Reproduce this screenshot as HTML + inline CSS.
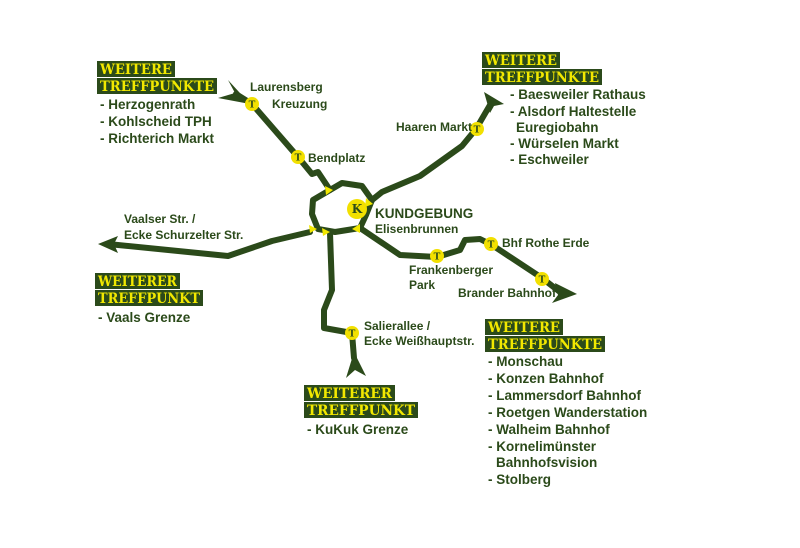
<!DOCTYPE html>
<html><head><meta charset="utf-8"><style>
body{margin:0;background:#fff;}
svg{display:block}
.t{font-family:"Liberation Sans",sans-serif;font-weight:bold;fill:#2b4a1a;font-size:12px}
.l{font-family:"Liberation Sans",sans-serif;font-weight:bold;fill:#2b4a1a;font-size:13.5px}
.h{font-family:"DejaVu Serif","Liberation Serif",serif;font-weight:bold;fill:#f2e800;font-size:13.5px}
.bx{fill:#2b4a1a}
.ln{fill:none;stroke:#2b4a1a;stroke-width:6;stroke-linejoin:round;stroke-linecap:round}
</style></head><body>
<svg width="800" height="548" viewBox="0 0 800 548" xmlns="http://www.w3.org/2000/svg">
<path class="ln" d="M236,94 L252,104 L298,157 L312,174 L318,172 L330,190"/>
<path class="ln" d="M330,190 L342,183 L362,186 L372,200 L366,215 L360,228 L335,232 L318,229 L312,214 L313,200 L330,190"/>
<path class="ln" d="M372,200 L382,192 L420,176 L462,146 L476,129 L490,105"/>
<path class="ln" d="M108,244 L228,256 L272,241 L310,232"/>
<path class="ln" d="M330,233 L332,290 L324,310 L324,328 L352,333 L354,358"/>
<path class="ln" d="M360,228 L400,255 L437,257 L460,250 L465,240 L480,239 L492,245 L542,278 L560,292"/>
<polygon class="bx" points="228,80 250,104 218,98 235,93"/>
<polygon class="bx" points="484,92 504,104 494,106 490,113"/>
<polygon class="bx" points="98,244 118,236 114,244 118,253"/>
<polygon class="bx" points="346,378 354,352 366,376 355,370"/>
<polygon class="bx" points="577,294 555,283 558,295 552,303"/>
<g fill="#f2e800">
<polygon points="325,186 333,190 326,195"/>
<polygon points="366,198 373,204 365,207"/>
<polygon points="309,225 317,229 310,233"/>
<polygon points="322,228 330,232 323,236"/>
<polygon points="360,224 352,229 360,233"/>
</g>
<g font-family="DejaVu Serif,serif" font-weight="bold" font-size="9" text-anchor="middle" fill="#2b4a1a">
<circle cx="252" cy="104" r="7" fill="#f2e000"/><text x="252" y="107.5">T</text>
<circle cx="298" cy="157" r="7" fill="#f2e000"/><text x="298" y="160.5">T</text>
<circle cx="477" cy="129" r="7" fill="#f2e000"/><text x="477" y="132.5">T</text>
<circle cx="437" cy="256" r="7" fill="#f2e000"/><text x="437" y="259.5">T</text>
<circle cx="491" cy="244" r="7" fill="#f2e000"/><text x="491" y="247.5">T</text>
<circle cx="542" cy="279" r="7" fill="#f2e000"/><text x="542" y="282.5">T</text>
<circle cx="352" cy="333" r="7" fill="#f2e000"/><text x="352" y="336.5">T</text>
<circle cx="357" cy="209" r="10" fill="#f2e000"/><text x="357" y="213" font-size="12">K</text>
</g>
<text class="t" x="250" y="91">Laurensberg</text>
<text class="t" x="272" y="108">Kreuzung</text>
<text class="t" x="308" y="162">Bendplatz</text>
<text class="t" x="396" y="131">Haaren Markt</text>
<text class="l" x="375" y="218">KUNDGEBUNG</text>
<text class="t" x="375" y="233">Elisenbrunnen</text>
<text class="t" x="124" y="223">Vaalser Str. /</text>
<text class="t" x="124" y="239">Ecke Schurzelter Str.</text>
<text class="t" x="409" y="274">Frankenberger</text>
<text class="t" x="409" y="289">Park</text>
<text class="t" x="502" y="247">Bhf Rothe Erde</text>
<text class="t" x="458" y="297">Brander Bahnhof</text>
<text class="t" x="364" y="330">Salierallee /</text>
<text class="t" x="364" y="345">Ecke Weißhauptstr.</text>
<rect class="bx" x="97" y="61" width="78" height="16"/><text class="h" x="100" y="74" textLength="72" lengthAdjust="spacingAndGlyphs">WEITERE</text>
<rect class="bx" x="97" y="78" width="120" height="16"/><text class="h" x="100" y="91" textLength="114" lengthAdjust="spacingAndGlyphs">TREFFPUNKTE</text>
<text class="l" x="100" y="109">- Herzogenrath</text>
<text class="l" x="100" y="126">- Kohlscheid TPH</text>
<text class="l" x="100" y="143">- Richterich Markt</text>
<rect class="bx" x="482" y="52" width="78" height="16"/><text class="h" x="485" y="65" textLength="72" lengthAdjust="spacingAndGlyphs">WEITERE</text>
<rect class="bx" x="482" y="69" width="120" height="16"/><text class="h" x="485" y="82" textLength="114" lengthAdjust="spacingAndGlyphs">TREFFPUNKTE</text>
<text class="l" x="510" y="99">- Baesweiler Rathaus</text>
<text class="l" x="510" y="116">- Alsdorf Haltestelle</text>
<text class="l" x="516" y="132">Euregiobahn</text>
<text class="l" x="510" y="148">- Würselen Markt</text>
<text class="l" x="510" y="164">- Eschweiler</text>
<rect class="bx" x="95" y="273" width="85" height="16"/><text class="h" x="98" y="286" textLength="79" lengthAdjust="spacingAndGlyphs">WEITERER</text>
<rect class="bx" x="95" y="290" width="108" height="16"/><text class="h" x="98" y="303" textLength="102" lengthAdjust="spacingAndGlyphs">TREFFPUNKT</text>
<text class="l" x="98" y="322">- Vaals Grenze</text>
<rect class="bx" x="304" y="385" width="91" height="16"/><text class="h" x="307" y="398" textLength="85" lengthAdjust="spacingAndGlyphs">WEITERER</text>
<rect class="bx" x="304" y="402" width="114" height="16"/><text class="h" x="307" y="415" textLength="108" lengthAdjust="spacingAndGlyphs">TREFFPUNKT</text>
<text class="l" x="307" y="434">- KuKuk Grenze</text>
<rect class="bx" x="485" y="319" width="78" height="16"/><text class="h" x="488" y="332" textLength="72" lengthAdjust="spacingAndGlyphs">WEITERE</text>
<rect class="bx" x="485" y="336" width="120" height="16"/><text class="h" x="488" y="349" textLength="114" lengthAdjust="spacingAndGlyphs">TREFFPUNKTE</text>
<text class="l" x="488" y="366">- Monschau</text>
<text class="l" x="488" y="383">- Konzen Bahnhof</text>
<text class="l" x="488" y="400">- Lammersdorf Bahnhof</text>
<text class="l" x="488" y="417">- Roetgen Wanderstation</text>
<text class="l" x="488" y="434">- Walheim Bahnhof</text>
<text class="l" x="488" y="451">- Kornelimünster</text>
<text class="l" x="496" y="467">Bahnhofsvision</text>
<text class="l" x="488" y="484">- Stolberg</text>
</svg>
</body></html>
